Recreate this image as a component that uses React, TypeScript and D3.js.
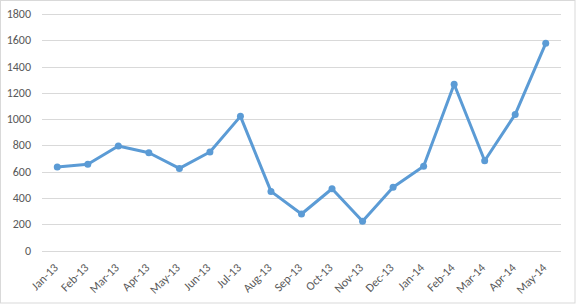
import React from "react";
import * as d3 from "d3";

const categories = ["Jan-13","Feb-13","Mar-13","Apr-13","May-13","Jun-13","Jul-13","Aug-13","Sep-13","Oct-13","Nov-13","Dec-13","Jan-14","Feb-14","Mar-14","Apr-14","May-14"];
const values = [635, 656, 795, 744, 625, 750, 1021, 450, 278, 470, 222, 481, 641, 1265, 683, 1036, 1577];
const yTicks = [0, 200, 400, 600, 800, 1000, 1200, 1400, 1600, 1800];

const W = 576, H = 306;
const left = 42, right = 561, top = 14, bottom = 250.5;

export default function App() {
  const x = d3.scaleBand<string>().domain(categories).range([left, right]);
  const y = d3.scaleLinear().domain([0, 1800]).range([bottom, top]);
  const cx = (c: string) => (x(c) as number) + x.bandwidth() / 2;
  const line = d3.line<number>().x((_, i) => cx(categories[i])).y(v => y(v));
  const font = "Carlito, Lato, 'Liberation Sans', sans-serif";
  return (
    <svg width={W} height={H} style={{ position: "absolute", left: 0, top: 0, background: "#fff" }}>
      <rect x={0.5} y={0.5} width={574.5} height={302.5} fill="#fff" stroke="#d9d9d9" />
      {yTicks.map(t => (
        <g key={t}>
          <line x1={left} x2={right} y1={Math.round(y(t)) + 0.5} y2={Math.round(y(t)) + 0.5} stroke="#d9d9d9" strokeWidth={1} />
          <text x={31} y={y(t) + 4} textAnchor="end" fontFamily={font} fontSize={12} fill="#595959">{t}</text>
        </g>
      ))}
      {categories.map(c => (
        <text key={c} transform={`translate(${cx(c) + 1.5},${bottom + 18}) rotate(-45)`} textAnchor="end" fontFamily={font} fontSize={12} fill="#595959">{c}</text>
      ))}
      <path d={line(values) || ""} fill="none" stroke="#5B9BD5" strokeWidth={3} strokeLinejoin="round" strokeLinecap="round" />
      {values.map((v, i) => (
        <circle key={i} cx={cx(categories[i])} cy={y(v)} r={3.5} fill="#5B9BD5" />
      ))}
    </svg>
  );
}
